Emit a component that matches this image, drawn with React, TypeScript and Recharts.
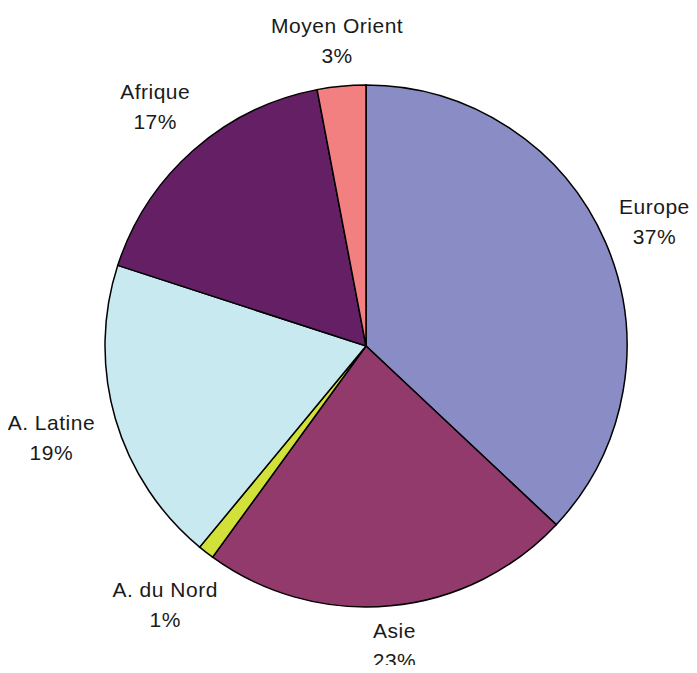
import { Cell, Pie, PieChart } from 'recharts';

const regions = ['Europe', 'Asie', 'A. du Nord', 'A. Latine', 'Afrique', 'Moyen Orient'];
const shares = [37, 23, 1, 19, 17, 3];
const colors = ['#8A8CC6', '#933A6C', '#D2E03A', '#C9E9F1', '#652065', '#F28080'];

const data = regions.map((name, i) => ({ name, value: shares[i] }));

const W = 697;
const H = 673;
const RAD = Math.PI / 180;
const FONT = 21;
const LINE = 30;

const renderLabel = (props: any) => {
  const { cx, cy, midAngle, outerRadius, name, value } = props;
  const dx = Math.cos(-midAngle * RAD);
  const dy = Math.sin(-midAngle * RAD);
  // push the text box out until its near side clears the rim
  const halfW = (name.length * FONT * 0.5) / 2;
  const halfH = 26;
  const push = halfW * Math.abs(dx) + halfH * Math.abs(dy);
  const r = outerRadius + 14 + push;
  const x = cx + r * dx;
  // keep the second line inside the picture
  const y = Math.min(cy + r * dy, H - 5 - (LINE - 7.5));
  return (
    <text
      x={x}
      y={y}
      textAnchor='middle'
      fill='#1a1a1a'
      fontSize={FONT}
      fontFamily='Liberation Sans, Arial, sans-serif'
      letterSpacing={0.5}
    >
      <tspan x={x} dy={-7.5}>
        {name}
      </tspan>
      <tspan x={x} dy={LINE}>
        {`${value}%`}
      </tspan>
    </text>
  );
};

export default function App() {
  return (
    <div style={{ margin: -8, width: W, height: H }}>
      <PieChart
        width={W}
        height={H}
        margin={{ top: 0, right: 0, bottom: 0, left: 0 }}
        style={{ overflow: 'visible' }}
      >
        <Pie
          data={data}
          dataKey='value'
          nameKey='name'
          cx={366}
          cy={346}
          outerRadius={261}
          startAngle={90}
          endAngle={-270}
          stroke='#000'
          strokeWidth={1.5}
          label={renderLabel}
          labelLine={false}
          isAnimationActive={false}
        >
          {data.map((d, i) => (
            <Cell key={d.name} fill={colors[i]} />
          ))}
        </Pie>
      </PieChart>
    </div>
  );
}
